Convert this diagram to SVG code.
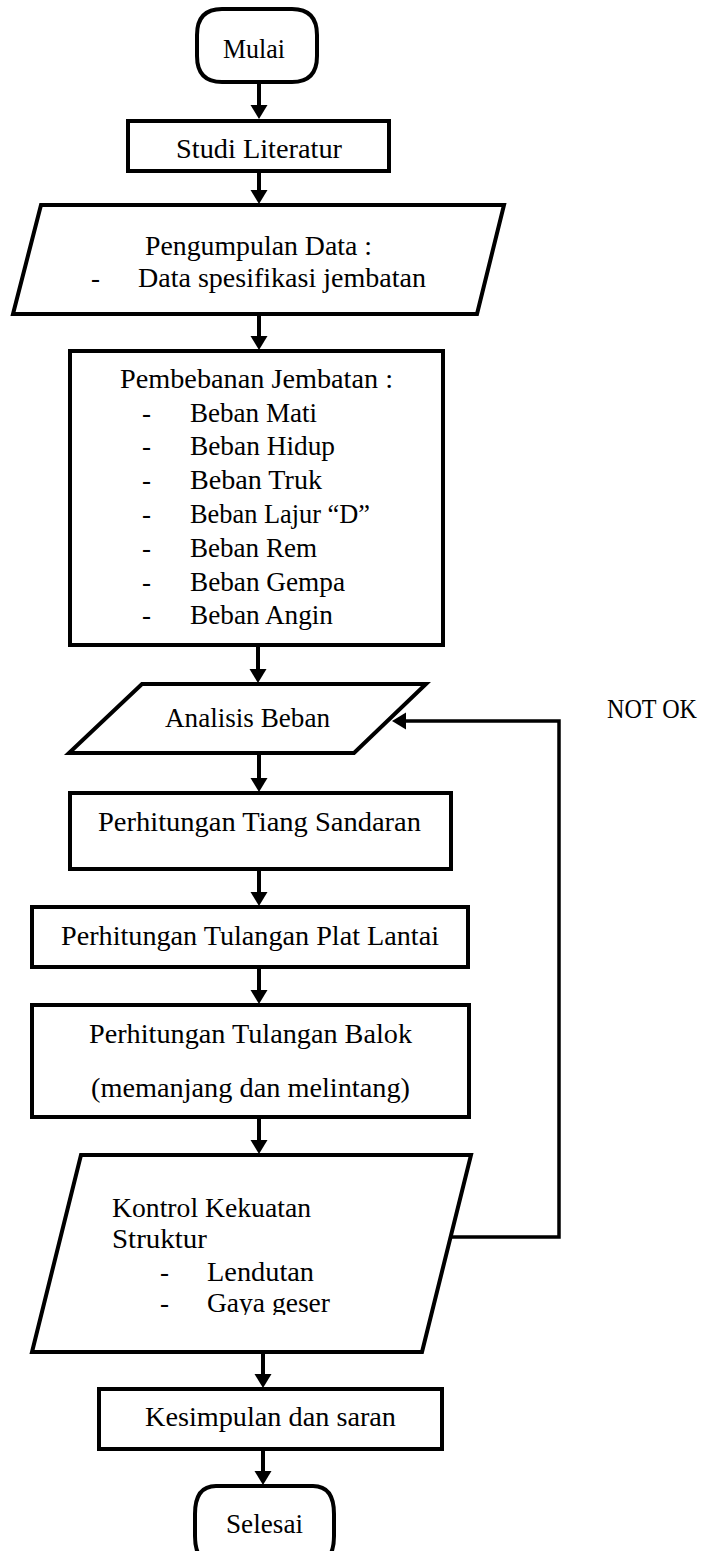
<svg xmlns="http://www.w3.org/2000/svg" width="706" height="1551" viewBox="0 0 706 1551">
<style>
.shape{fill:#fff;stroke:#000;stroke-width:4;stroke-linejoin:miter}
.line{fill:none;stroke:#000;stroke-width:4}
.fb{fill:none;stroke:#000;stroke-width:3.5}
text{font-family:"Liberation Serif","Times New Roman",serif;font-size:27px;fill:#000}
</style>
<defs>
<marker id="arr" markerUnits="userSpaceOnUse" markerWidth="18" markerHeight="18" refX="4" refY="8.5" orient="auto">
<path d="M0,0 L14,8.5 L0,17 Z" fill="#000"/>
</marker>
<clipPath id="clipGaya"><rect x="0" y="1290" width="706" height="25"/></clipPath>
</defs>
<rect width="706" height="1551" fill="#fff"/>

<g id="connectors">
<line class="line" x1="259" y1="82" x2="259" y2="109" marker-end="url(#arr)"/>
<line class="line" x1="259" y1="171" x2="259" y2="194" marker-end="url(#arr)"/>
<line class="line" x1="259" y1="314" x2="259" y2="340" marker-end="url(#arr)"/>
<line class="line" x1="258" y1="645" x2="258" y2="673" marker-end="url(#arr)"/>
<line class="line" x1="259" y1="753" x2="259" y2="782" marker-end="url(#arr)"/>
<line class="line" x1="259" y1="869" x2="259" y2="896" marker-end="url(#arr)"/>
<line class="line" x1="259" y1="967" x2="259" y2="994" marker-end="url(#arr)"/>
<line class="line" x1="259" y1="1117" x2="259" y2="1144" marker-end="url(#arr)"/>
<line class="line" x1="263" y1="1352" x2="263" y2="1378" marker-end="url(#arr)"/>
<line class="line" x1="263" y1="1449" x2="263" y2="1475" marker-end="url(#arr)"/>
<polyline class="fb" points="451,1237 559,1237 559,721 402,721" marker-end="url(#arr)"/>
</g>

<g id="mulai">
<path class="shape" d="M222,9 H292 Q317,9 317,35 V56 Q317,82 292,82 H222 Q197,82 197,56 V35 Q197,9 222,9 Z"/>
<text x="223" y="58" textLength="62" lengthAdjust="spacingAndGlyphs">Mulai</text>
</g>

<g id="studi">
<rect class="shape" x="128" y="121" width="261" height="50"/>
<text x="176" y="158" textLength="166" lengthAdjust="spacingAndGlyphs">Studi Literatur</text>
</g>

<g id="pengumpulan">
<polygon class="shape" points="41,205 504,205 477,314 13,314"/>
<text x="145" y="255" textLength="227" lengthAdjust="spacingAndGlyphs">Pengumpulan Data :</text>
<text x="91" y="287">-</text>
<text x="138" y="287" textLength="288" lengthAdjust="spacingAndGlyphs">Data spesifikasi jembatan</text>
</g>

<g id="pembebanan">
<rect class="shape" x="70" y="351" width="373" height="294"/>
<text x="120" y="388" textLength="273" lengthAdjust="spacingAndGlyphs">Pembebanan Jembatan :</text>
<text x="142" y="422">-</text>
<text x="190" y="422" textLength="127" lengthAdjust="spacingAndGlyphs">Beban Mati</text>
<text x="142" y="455">-</text>
<text x="190" y="455" textLength="145" lengthAdjust="spacingAndGlyphs">Beban Hidup</text>
<text x="142" y="489">-</text>
<text x="190" y="489" textLength="132" lengthAdjust="spacingAndGlyphs">Beban Truk</text>
<text x="142" y="523">-</text>
<text x="190" y="523" textLength="180" lengthAdjust="spacingAndGlyphs">Beban Lajur “D”</text>
<text x="142" y="557">-</text>
<text x="190" y="557" textLength="127" lengthAdjust="spacingAndGlyphs">Beban Rem</text>
<text x="142" y="591">-</text>
<text x="190" y="591" textLength="155" lengthAdjust="spacingAndGlyphs">Beban Gempa</text>
<text x="142" y="624">-</text>
<text x="190" y="624" textLength="143" lengthAdjust="spacingAndGlyphs">Beban Angin</text>
</g>

<g id="analisis">
<polygon class="shape" points="142,684 426,684 354,753 69,753"/>
<text x="165" y="727" textLength="165" lengthAdjust="spacingAndGlyphs">Analisis Beban</text>
</g>

<g id="notok">
<text x="607" y="718" textLength="90" lengthAdjust="spacingAndGlyphs">NOT OK</text>
</g>

<g id="tiang">
<rect class="shape" x="70" y="793" width="381" height="76"/>
<text x="98" y="831" textLength="323" lengthAdjust="spacingAndGlyphs">Perhitungan Tiang Sandaran</text>
</g>

<g id="plat">
<rect class="shape" x="32" y="907" width="436" height="60"/>
<text x="61" y="945" textLength="378" lengthAdjust="spacingAndGlyphs">Perhitungan Tulangan Plat Lantai</text>
</g>

<g id="balok">
<rect class="shape" x="32" y="1005" width="437" height="112"/>
<text x="89" y="1043" textLength="323" lengthAdjust="spacingAndGlyphs">Perhitungan Tulangan Balok</text>
<text x="91" y="1097" textLength="319" lengthAdjust="spacingAndGlyphs">(memanjang dan melintang)</text>
</g>

<g id="kontrol">
<polygon class="shape" points="81,1155 471,1155 422,1352 32,1352"/>
<text x="112" y="1217" textLength="199" lengthAdjust="spacingAndGlyphs">Kontrol Kekuatan</text>
<text x="112" y="1248" textLength="95" lengthAdjust="spacingAndGlyphs">Struktur</text>
<text x="160" y="1281">-</text>
<text x="207" y="1281" textLength="107" lengthAdjust="spacingAndGlyphs">Lendutan</text>
<text x="160" y="1312">-</text>
<text x="207" y="1312" textLength="123" lengthAdjust="spacingAndGlyphs" clip-path="url(#clipGaya)">Gaya geser</text>
</g>

<g id="kesimpulan">
<rect class="shape" x="99" y="1389" width="343" height="60"/>
<text x="145" y="1426" textLength="251" lengthAdjust="spacingAndGlyphs">Kesimpulan dan saran</text>
</g>

<g id="selesai">
<path class="shape" d="M216,1486 H313 Q334,1486 334,1514 V1536 Q334,1564 313,1564 H216 Q195,1564 195,1536 V1514 Q195,1486 216,1486 Z"/>
<text x="226" y="1533" textLength="77" lengthAdjust="spacingAndGlyphs">Selesai</text>
</g>
</svg>
